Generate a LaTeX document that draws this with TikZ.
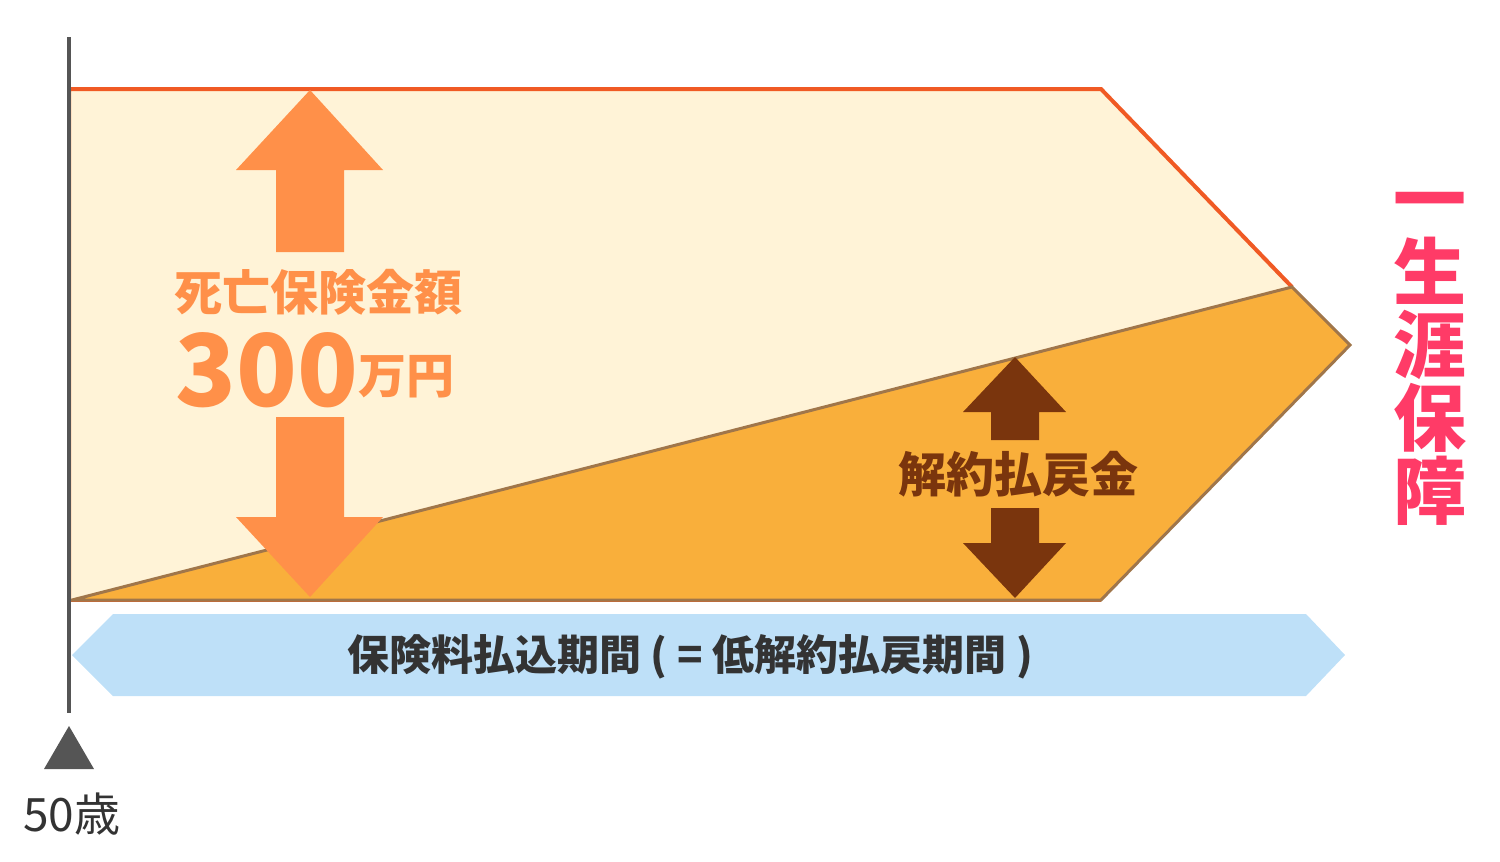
\documentclass[tikz,border=0pt]{standalone}
\usepackage{fontspec}
\newfontfamily\jp{Noto Sans CJK JP}
\definecolor{cream}{HTML}{FFF3D7}
\definecolor{ofill}{HTML}{F9AF3B}
\definecolor{redline}{HTML}{F05A24}
\definecolor{brline}{HTML}{A0764A}
\definecolor{arrorange}{HTML}{FF9049}
\definecolor{arrbrown}{HTML}{7A350D}
\definecolor{bandblue}{HTML}{BEE0F8}
\definecolor{pinktxt}{HTML}{FF3B67}
\definecolor{axisgray}{HTML}{555555}
\definecolor{darktxt}{HTML}{333333}
\tikzset{
  lbl/.style={inner sep=0pt, outer sep=0pt},
}
\begin{document}
\begin{tikzpicture}[x=0.5pt,y=-0.5pt]
\useasboundingbox (0,0) rectangle (1500,862);
\coordinate (TL) at (69,89);
\coordinate (TR) at (1101,89);
\coordinate (J) at (1292,287);
\coordinate (T) at (1350,345);
\coordinate (BR) at (1101,600);
\coordinate (BL) at (69,600);
\coordinate (DL) at (72,600);
% light region
\fill[cream] (TL) -- (TR) -- (T) -- (BR) -- (BL) -- cycle;
\draw[redline, line width=2pt] (BL) -- (TL) -- (TR) -- (J);
\draw[redline, line width=1.5pt] (BL) -- (BR);
% dark region
\filldraw[fill=ofill, draw=brline, line width=1.5pt, line join=miter] (DL) -- (J) -- (T) -- (BR) -- (BL) -- cycle;
% big orange arrows
\fill[arrorange] (310,90) -- (383,170) -- (344,170) -- (344,252) -- (276,252) -- (276,170) -- (236,170) -- cycle;
\fill[arrorange] (276,417) -- (344,417) -- (344,517) -- (383,517) -- (310,597) -- (236,517) -- (276,517) -- cycle;
% brown arrows
\fill[arrbrown] (1015,357) -- (1066,412) -- (1039,412) -- (1039,440) -- (991,440) -- (991,412) -- (963,412) -- cycle;
\fill[arrbrown] (991,508) -- (1039,508) -- (1039,543) -- (1066,543) -- (1015,598) -- (963,543) -- (991,543) -- cycle;
% blue band
\fill[bandblue] (72,655) -- (113,614) -- (1306,614) -- (1345,655) -- (1306,696) -- (113,696) -- cycle;
% axis
\draw[axisgray, line width=2pt] (69,37) -- (69,713);
\fill[axisgray] (69,726) -- (94,769) -- (44,769) -- cycle;
% texts
\node[lbl, text=arrorange, font=\jp\bfseries\fontsize{24}{28}\selectfont] (death) at (318,292) {死亡保険金額};
\node[lbl, text=arrorange, font=\jp\bfseries\fontsize{50}{56}\selectfont] (amount) at (267,370) {300};
\node[lbl, text=arrorange, font=\jp\bfseries\fontsize{24}{28}\selectfont] (unit) at (406,377) {万円};
\node[lbl, text=arrbrown, font=\jp\bfseries\fontsize{24}{28}\selectfont] (refund) at (1018,474) {解約払戻金};
\node[lbl, text=darktxt, font=\jp\bfseries\fontsize{21}{25}\selectfont] (period) at (690,657) {保険料払込期間 ( = 低解約払戻期間 )};
\node[lbl, text=darktxt, font=\jp\fontsize{23}{27}\selectfont] (age) at (72,814) {50歳};
\foreach \c/\yy [count=\i] in {一/226,生/299,涯/372,保/445,障/518}
  \node[lbl, anchor=base, text=pinktxt, font=\jp\bfseries\fontsize{36.5}{40}\selectfont] (life\i) at (1430,\yy) {\c};
\end{tikzpicture}
\end{document}
